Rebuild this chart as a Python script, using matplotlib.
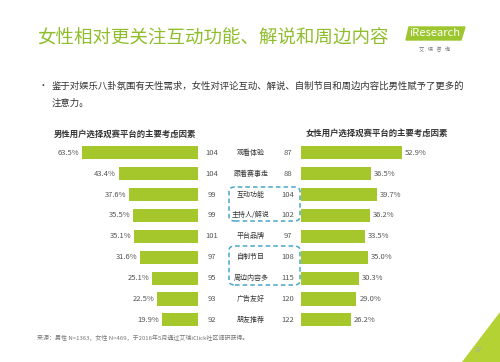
import matplotlib
matplotlib.use("Agg")
import matplotlib.pyplot as plt
from matplotlib.patches import FancyBboxPatch, Polygon
import matplotlib.transforms as mtransforms

plt.rcParams['font.family'] = ['Noto Sans CJK SC', 'DejaVu Sans']

categories = ["观看体验", "跟着赛事走", "互动功能", "主持人/解说", "平台品牌",
              "自制节目", "周边内容多", "广告友好", "朋友推荐"]
male_pct = [63.5, 43.4, 37.6, 35.5, 35.1, 31.6, 25.1, 22.5, 19.9]
male_tgi = [104, 104, 99, 99, 101, 97, 95, 93, 92]
female_pct = [52.9, 36.5, 39.7, 36.2, 33.5, 35.0, 30.3, 29.0, 26.2]
female_tgi = [87, 88, 104, 102, 97, 108, 115, 120, 122]

W, H = 500, 362
fig = plt.figure(figsize=(W / 100, H / 100), dpi=100)
fig.patch.set_facecolor('white')

def fx(px):
    return px / W

def fy(py):
    return 1 - py / H

bar_color = '#a6c72c'
green = '#8fbe2c'
txt = '#555555'

n = len(categories)
row_h = 20.9
top = 152.7 - row_h / 2
bottom = top + n * row_h

# Left axes (male)
lx0, lx1 = 20, 198
axL = fig.add_axes([fx(lx0), fy(bottom), fx(lx1 - lx0), (bottom - top) / H])
axL.barh(range(n), male_pct, height=0.63, color=bar_color)
axL.set_xlim((lx1 - lx0) / 1.83, 0)
axL.set_ylim(n - 0.5, -0.5)
axL.axis('off')
for i, v in enumerate(male_pct):
    axL.text(v + 1.5, i, f"{v:.1f}%", ha='right', va='center', fontsize=5.5, color=txt)

# Right axes (female)
rx0, rx1 = 301, 480
axR = fig.add_axes([fx(rx0), fy(bottom), fx(rx1 - rx0), (bottom - top) / H])
axR.barh(range(n), female_pct, height=0.63, color=bar_color)
axR.set_xlim(0, (rx1 - rx0) / 1.91)
axR.set_ylim(n - 0.5, -0.5)
axR.axis('off')
for i, v in enumerate(female_pct):
    axR.text(v + 1.5, i, f"{v:.1f}%", ha='left', va='center', fontsize=5.5, color=txt)

tr = mtransforms.blended_transform_factory(fig.transFigure, axR.transData)
for i in range(n):
    fig.text(fx(212), i, str(male_tgi[i]), transform=tr, ha='center', va='center', fontsize=5.5, color=txt)
    fig.text(fx(251), i, categories[i], transform=tr, ha='center', va='center', fontsize=5, color='#333333')
    fig.text(fx(288), i, str(female_tgi[i]), transform=tr, ha='center', va='center', fontsize=5.5, color=txt)

# Dashed highlight boxes
for (y0, y1) in [(187, 221), (246, 285)]:
    box = FancyBboxPatch((fx(229), fy(y1)), fx(300 - 229), (y1 - y0) / H,
                         boxstyle="round,pad=0,rounding_size=0.012",
                         transform=fig.transFigure, fill=False,
                         edgecolor='#4aa6c9', linestyle=(0, (3, 2)), linewidth=1.1)
    fig.patches.append(box)

# Titles
fig.text(fx(37), fy(39), "女性相对更关注互动功能、解说和周边内容", fontsize=13.3,
         color=green, ha='left', va='center')
fig.text(fx(38), fy(86), "•", fontsize=6.5, color='#333333', ha='left', va='center')
fig.text(fx(52), fy(86), "鉴于对娱乐八卦氛围有天性需求，女性对评论互动、解说、自制节目和周边内容比男性赋予了更多的",
         fontsize=6.75, color='#333333', ha='left', va='center')
fig.text(fx(52), fy(103), "注意力。", fontsize=6.75, color='#333333', ha='left', va='center')

fig.text(fx(125), fy(134), "男性用户选择观赛平台的主要考虑因素", fontsize=6, color='#333333',
         ha='center', va='center', fontweight='bold')
fig.text(fx(377), fy(133), "女性用户选择观赛平台的主要考虑因素", fontsize=6, color='#333333',
         ha='center', va='center', fontweight='bold')

fig.text(fx(37), fy(338), "来源：男性 N=1363，女性 N=469，于2016年5月通过艾瑞iClick社区调研获得。",
         fontsize=4.3, color='#777777', ha='left', va='center')

# Logo
logo = Polygon([[fx(406), fy(40)], [fx(461), fy(40)], [fx(465), fy(27)], [fx(409), fy(27)]],
               closed=True, transform=fig.transFigure, color='#9cc62e')
fig.patches.append(logo)
fig.text(fx(435), fy(33.5), "iResearch", fontsize=8, color='white', ha='center', va='center')
fig.text(fx(435), fy(49), "艾   瑞   咨   询", fontsize=3.8, color='#777777', ha='center', va='center')

# Corner decoration
corner = Polygon([[fx(462), fy(362)], [fx(500), fy(362)], [fx(500), fy(312)]],
                 closed=True, transform=fig.transFigure, color='#b5d234')
fig.patches.append(corner)
fig.text(fx(479), fy(350), "37", fontsize=5, color='#aaaaaa', ha='center', va='center')

fig.savefig("out.png", dpi=100, facecolor='white')
